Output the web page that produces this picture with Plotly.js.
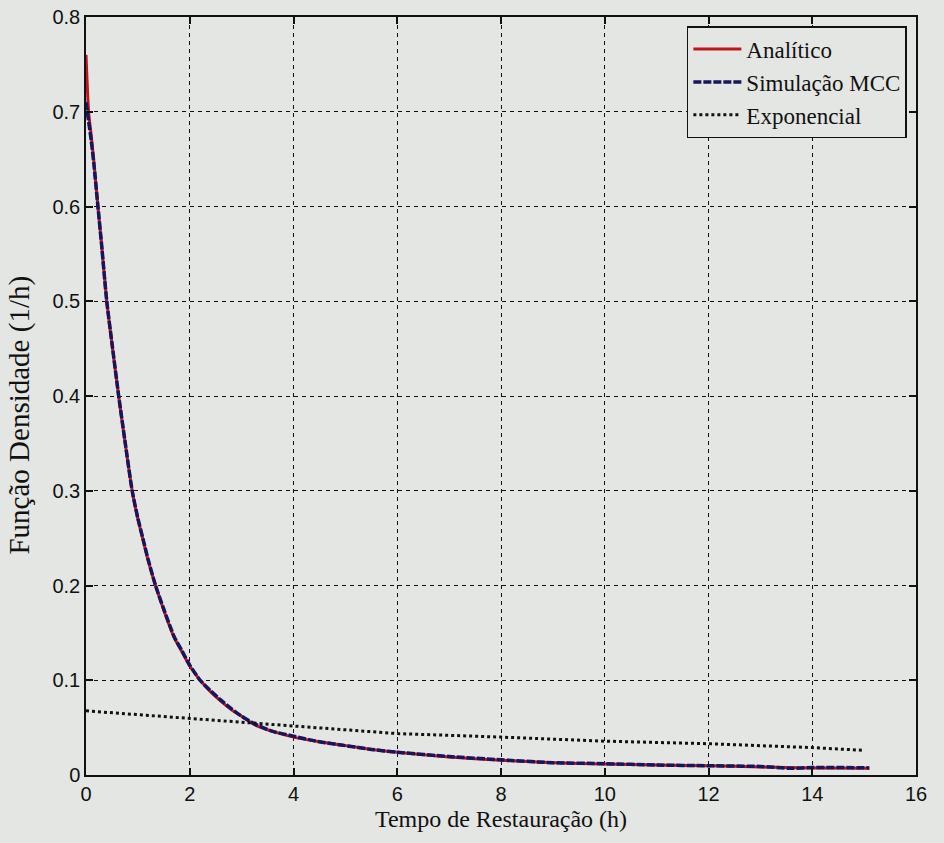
<!DOCTYPE html>
<html>
<head>
<meta charset="utf-8">
<script src="https://cdn.plot.ly/plotly-3.0.1.min.js"></script>
<style>html,body{margin:0;padding:0;background:#e4e6e3;}</style>
</head>
<body>
<div id="chart" style="width:944px;height:843px;"></div>
<script>
// Analítico (solid red)
const xAnalitico = [0, 0.05, 0.1, 0.15, 0.23, 0.3, 0.4, 0.5, 0.63, 0.75, 0.89, 1.0, 1.1, 1.2, 1.34, 1.5, 1.7, 1.85, 2.0, 2.2, 2.4, 2.6, 2.8, 3.0, 3.25, 3.6, 4, 4.5, 5, 5.5, 6, 7, 8, 9, 10, 11, 12, 13, 14, 15.1];
const yAnalitico = [0.76, 0.70, 0.675, 0.648, 0.60, 0.56, 0.50, 0.455, 0.40, 0.352, 0.30, 0.27, 0.248, 0.226, 0.20, 0.174, 0.145, 0.13, 0.115, 0.10, 0.088, 0.078, 0.069, 0.062, 0.053, 0.046, 0.040, 0.035, 0.031, 0.027, 0.024, 0.019, 0.0156, 0.013, 0.0115, 0.0105, 0.0097, 0.0085, 0.0075, 0.007];
// Simulação MCC (dashed blue)
const xMCC = [0, 0.05, 0.1, 0.15, 0.23, 0.3, 0.4, 0.5, 0.63, 0.75, 0.89, 1.0, 1.1, 1.2, 1.34, 1.5, 1.7, 1.85, 2.0, 2.2, 2.4, 2.6, 2.8, 3.0, 3.25, 3.6, 4, 4.5, 5, 5.5, 6, 7, 8, 9, 10, 11, 12, 13, 13.6, 14, 15.1];
const yMCC = [0.71, 0.69, 0.67, 0.646, 0.60, 0.56, 0.50, 0.456, 0.40, 0.353, 0.30, 0.271, 0.249, 0.227, 0.20, 0.175, 0.146, 0.131, 0.116, 0.10, 0.089, 0.079, 0.070, 0.062, 0.054, 0.046, 0.041, 0.035, 0.031, 0.027, 0.024, 0.0195, 0.016, 0.013, 0.012, 0.0105, 0.0098, 0.009, 0.007, 0.008, 0.0075];
// Exponencial (dotted black)
const xExp = [0, 2, 4, 6, 8, 10, 12, 14, 15];
const yExp = [0.0677, 0.0597, 0.051, 0.0437, 0.040, 0.0357, 0.033, 0.0289, 0.026];

const xTicks = [0, 2, 4, 6, 8, 10, 12, 14, 16];
const yTicks = [0, 0.1, 0.2, 0.3, 0.4, 0.5, 0.6, 0.7, 0.8];
const yTickText = ['0', '0.1', '0.2', '0.3', '0.4', '0.5', '0.6', '0.7', '0.8'];

const traces = [
  {x: xAnalitico, y: yAnalitico, mode: 'lines', name: 'Analítico',
   line: {color: '#c0141e', width: 3, shape: 'spline', smoothing: 0.6}},
  {x: xMCC, y: yMCC, mode: 'lines', name: 'Simulação MCC',
   line: {color: '#16165e', width: 3.5, dash: '8px,2px', shape: 'spline', smoothing: 0.6}},
  {x: xExp, y: yExp, mode: 'lines', name: 'Exponencial',
   line: {color: '#111111', width: 3, dash: 'dot'}}
];

const bg = '#e4e6e3';
const serif = 'Liberation Serif, Times New Roman, serif';
const axisCommon = {
  showline: true, linecolor: '#111', linewidth: 1.5, mirror: 'ticks',
  ticks: 'inside', ticklen: 7, tickcolor: '#111', tickwidth: 1.5,
  showgrid: true, gridcolor: '#111', gridwidth: 1.3, griddash: '4px,4px',
  zeroline: false,
  tickfont: {family: 'Liberation Sans, Arial, sans-serif', size: 20, color: '#111'}
};

const layout = {
  width: 944, height: 843,
  paper_bgcolor: bg, plot_bgcolor: bg,
  margin: {l: 86, r: 28, t: 17, b: 68},
  showlegend: true,
  legend: {
    x: 0.989, y: 0.988, xanchor: 'right', yanchor: 'top',
    bgcolor: bg, bordercolor: '#111', borderwidth: 1.5,
    font: {family: serif, size: 23, color: '#111'},
    itemwidth: 48,
    tracegroupgap: 0
  },
  xaxis: Object.assign({}, axisCommon, {
    range: [0, 16], tickvals: xTicks, ticktext: xTicks.map(String),
    title: {text: 'Tempo de Restauração (h)', standoff: 6,
            font: {family: serif, size: 24, color: '#111'}}
  }),
  yaxis: Object.assign({}, axisCommon, {
    range: [0, 0.8], tickvals: yTicks, ticktext: yTickText
  }),
  annotations: [{
    text: 'Função Densidade (1/h)', textangle: -90,
    xref: 'paper', yref: 'paper', x: -0.08, y: 0.475,
    xanchor: 'center', yanchor: 'middle', showarrow: false,
    font: {family: serif, size: 29, color: '#111'}
  }]
};

Plotly.newPlot('chart', traces, layout, {displayModeBar: false});
</script>
</body>
</html>
